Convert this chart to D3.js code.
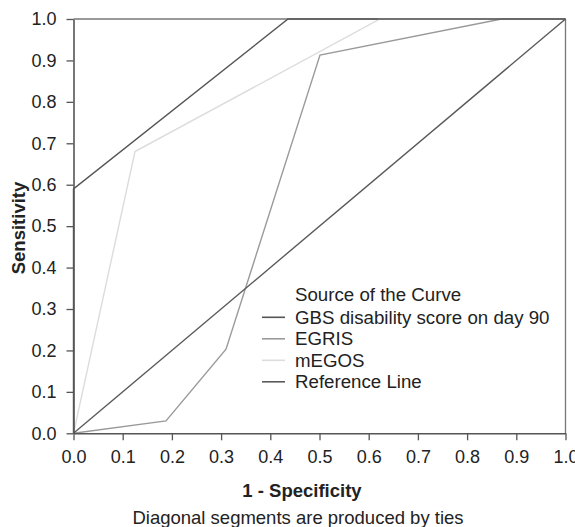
<!DOCTYPE html>
<html>
<head>
<meta charset="utf-8">
<script src="https://cdn.jsdelivr.net/npm/d3@7"></script>
<style>
body{margin:0;background:#fff;}
text{font-family:"Liberation Sans",Arial,sans-serif;}
</style>
</head>
<body>
<svg id="c" width="575" height="527"></svg>
<script>
const xTicks = [0,0.1,0.2,0.3,0.4,0.5,0.6,0.7,0.8,0.9,1.0];
const yTicks = [0,0.1,0.2,0.3,0.4,0.5,0.6,0.7,0.8,0.9,1.0];
const seriesNames = ["GBS disability score on day 90","EGRIS","mEGOS","Reference Line"];
const gbsX = [0,0,0.436,1];
const gbsY = [0,0.59,1,1];
const egrisX = [0,0.188,0.31,0.501,0.87,1];
const egrisY = [0,0.03,0.203,0.913,1,1];
const megosX = [0,0.125,0.623,1];
const megosY = [0,0.68,1,1];
const refX = [0,1];
const refY = [0,1];
const colors = ["#555555","#9a9a9a","#dcdcdc","#5a5a5a"];

const svg = d3.select("#c");
const L=73.5, R=565.5, T=19, B=433.3;
const x = d3.scaleLinear().domain([0,1]).range([L,R]);
const y = d3.scaleLinear().domain([0,1]).range([B,T]);

// frame top/right
svg.append("line").attr("x1",L).attr("x2",R).attr("y1",T).attr("y2",T).attr("stroke","#777").attr("stroke-width",1.3);
svg.append("line").attr("x1",R).attr("x2",R).attr("y1",T).attr("y2",B).attr("stroke","#777").attr("stroke-width",1.3);

const series = [[gbsX,gbsY],[egrisX,egrisY],[megosX,megosY],[refX,refY]];
const line = d3.line().x(d=>x(d[0])).y(d=>y(d[1]));
[2,1,3,0].forEach(i=>{
  const [xs,ys]=series[i];
  svg.append("path").datum(xs.map((v,j)=>[v,ys[j]]))
    .attr("d",line).attr("fill","none").attr("stroke",colors[i]).attr("stroke-width",1.4);
});

const fmt = d3.format(".1f");
const gx = svg.append("g").attr("transform",`translate(0,${B})`)
  .call(d3.axisBottom(x).tickValues(xTicks).tickFormat(fmt).tickSize(7).tickPadding(10).tickSizeOuter(0));
const gy = svg.append("g").attr("transform",`translate(${L},0)`)
  .call(d3.axisLeft(y).tickValues(yTicks).tickFormat(fmt).tickSize(7).tickPadding(10).tickSizeOuter(0));
[gx,gy].forEach(g=>{
  g.select(".domain").attr("stroke","#555").attr("stroke-width",1.6);
  g.selectAll(".tick line").attr("stroke","#555").attr("stroke-width",1.3);
  g.selectAll(".tick text").attr("fill","#222").style("font-size","18px").style("font-family","'Liberation Sans',Arial,sans-serif");
});

svg.append("text").attr("x",302).attr("y",490).attr("text-anchor","middle").attr("dominant-baseline","central")
  .style("font-size","18.5px").style("font-weight","bold").attr("fill","#222").text("1 - Specificity");
svg.append("text").attr("transform","translate(18,228) rotate(-90)").attr("text-anchor","middle").attr("dominant-baseline","central")
  .style("font-size","18.5px").style("font-weight","bold").attr("fill","#222").text("Sensitivity");
svg.append("text").attr("x",298).attr("y",517).attr("text-anchor","middle").attr("dominant-baseline","central")
  .style("font-size","18.5px").attr("fill","#222").text("Diagonal segments are produced by ties");

// legend
const lg = svg.append("g");
lg.append("text").attr("x",295).attr("y",294).attr("dominant-baseline","central").style("font-size","18.7px").attr("fill","#222").text("Source of the Curve");
seriesNames.forEach((n,i)=>{
  const yy = 317.3 + i*21.5;
  lg.append("line").attr("x1",262).attr("x2",285).attr("y1",yy).attr("y2",yy).attr("stroke",colors[i]).attr("stroke-width",1.6);
  lg.append("text").attr("x",295).attr("y",yy).attr("dominant-baseline","central").style("font-size","18.7px").attr("fill","#222").text(n);
});
</script>
</body>
</html>
